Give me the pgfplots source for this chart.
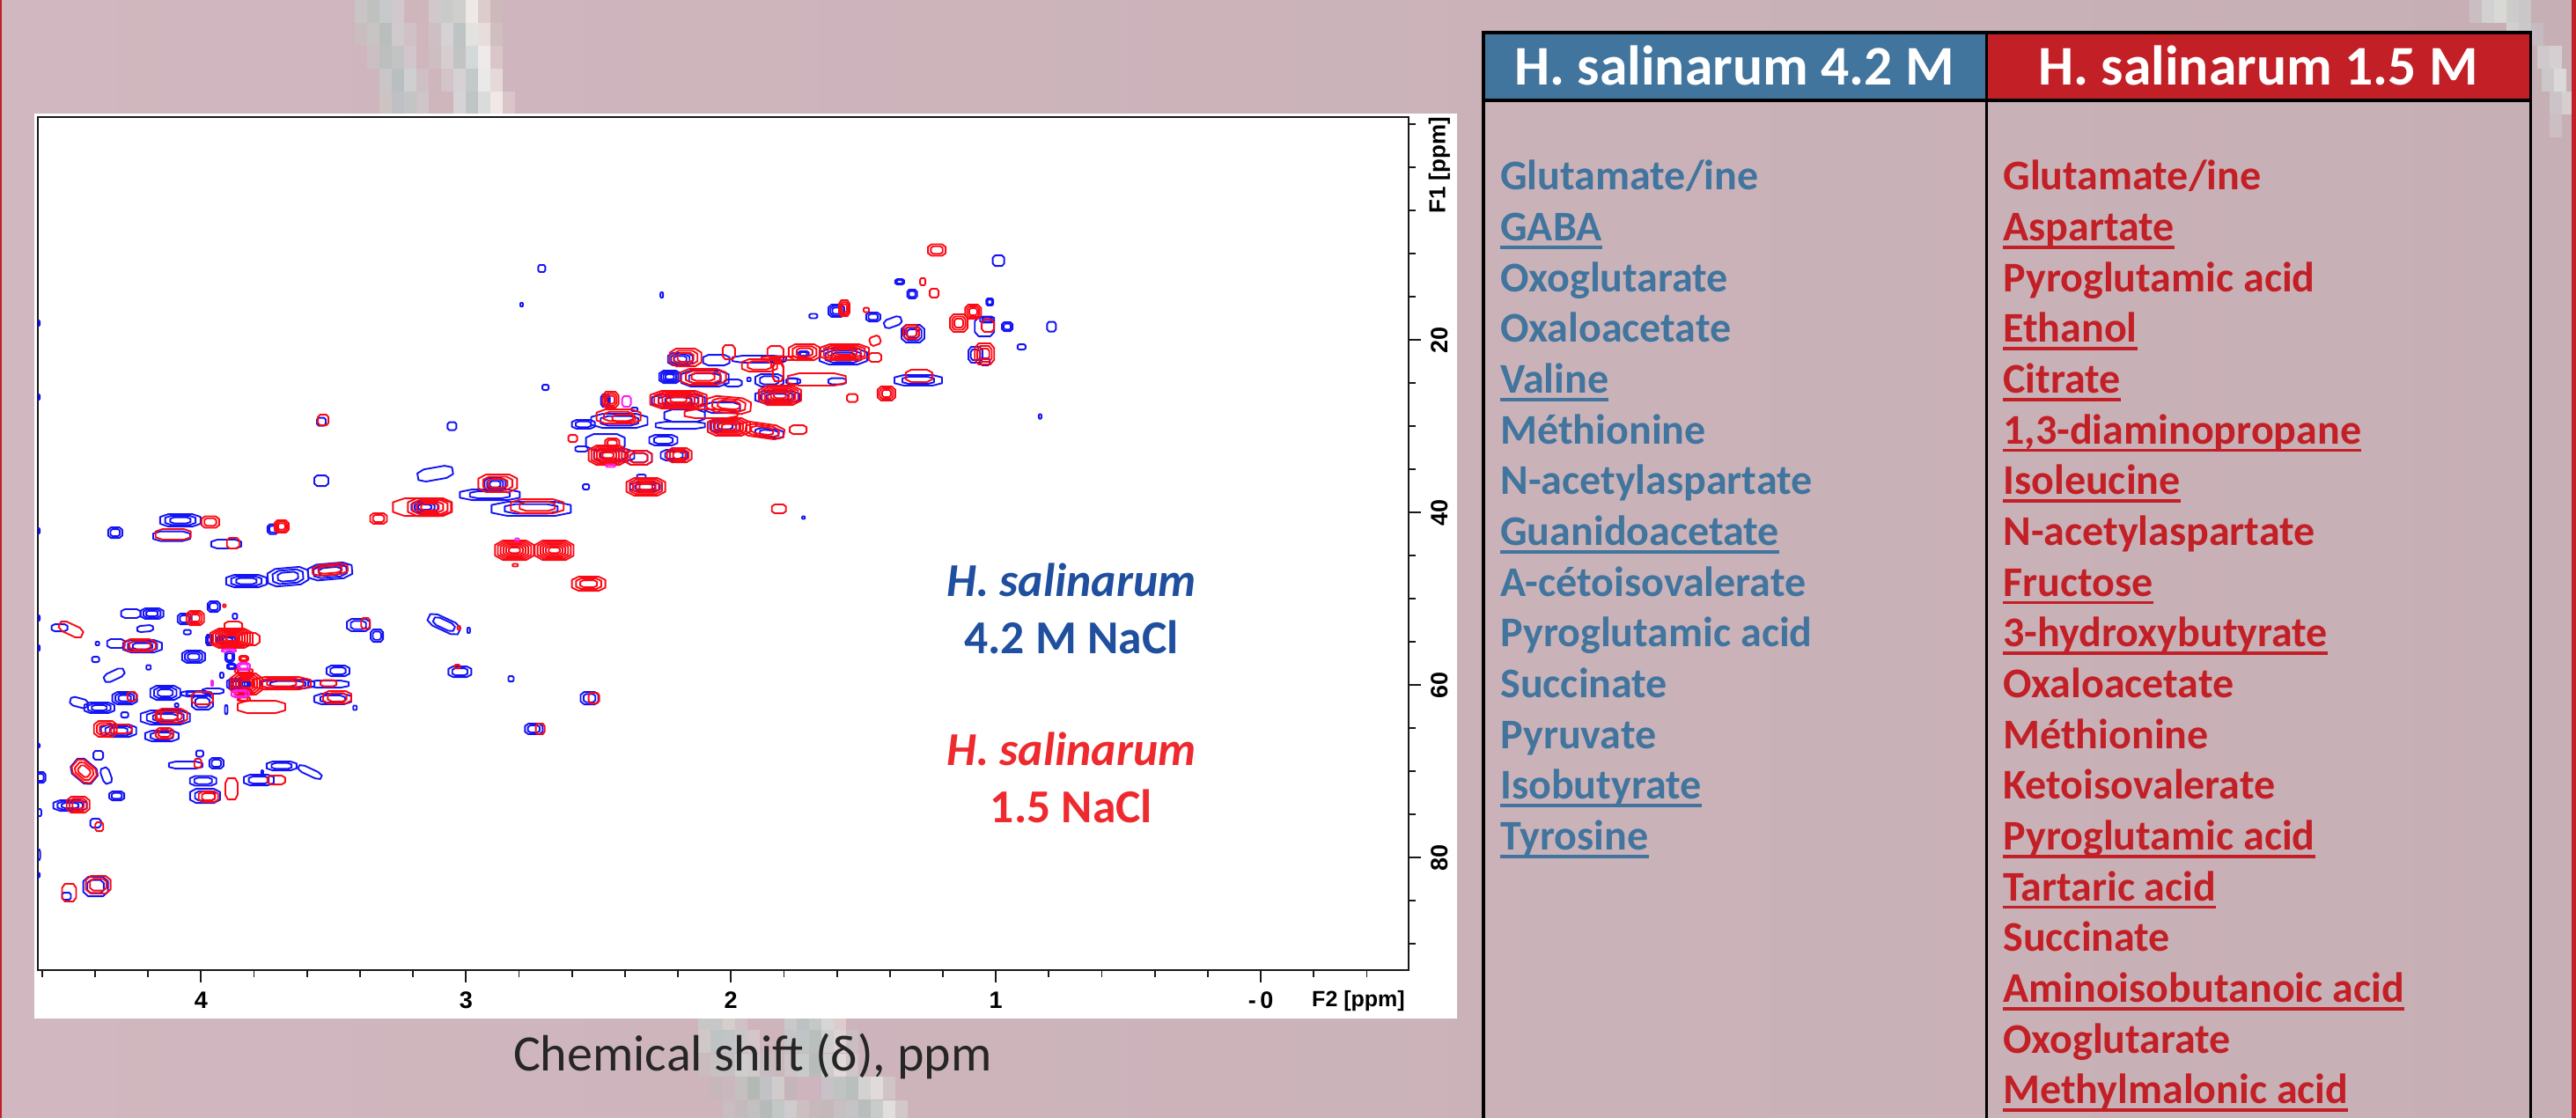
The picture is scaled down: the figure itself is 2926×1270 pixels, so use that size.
\documentclass[border=0pt]{standalone}
\usepackage{pgfplots}
\usepackage{pgfplotstable}
\usepackage{fontspec}
\pgfplotsset{compat=1.18}
\setmainfont{Carlito}
\newfontfamily\armfont{Liberation Sans}
\definecolor{cblue}{RGB}{20,20,245}
\definecolor{cred}{RGB}{250,10,20}
\definecolor{cmag}{RGB}{250,30,240}
\definecolor{tblue}{HTML}{41759E}
\definecolor{tred}{HTML}{C22026}
\definecolor{pblue}{HTML}{1F4F9E}
\definecolor{pred}{HTML}{EE2A2E}
\definecolor{bgl}{HTML}{D1B7BF}
\definecolor{bgm}{HTML}{CEB5BC}
\definecolor{bgr}{HTML}{C6AFB5}
\newcommand\blk[3]{\definecolor{tmpb}{HTML}{#3}\fill[tmpb] (#1,#2) rectangle ++(14.2,26.4);}
\newcommand\ulbox[1]{\setbox0\hbox{#1}\leavevmode\rlap{\copy0}\raisebox{-4.6bp}{\rule{\wd0}{1.9bp}}}
\newcommand\contourmark[1]{%
  \pgfsetstrokecolor{#1}\pgfsetlinewidth{0.95bp}\pgfsetroundjoin
  \pgftransformrotate{\ang}%
  \pgfmathtruncatemacro\nn{\nr}%
  \foreach \k in {1,...,\nn}{%
    \pgfmathsetmacro\ff{(\k+1)/(\nn+1)*0.50187}%
    \pgfmathsetmacro\aa{\rx*\ff}\pgfmathsetmacro\bb{\ry*\ff}%
    \pgfmathsetmacro\cc{0.6*\aa}\pgfmathsetmacro\dd{0.55*\bb}%
    \pgfpathmoveto{\pgfqpoint{\aa pt}{\dd pt}}%
    \pgfpathlineto{\pgfqpoint{\cc pt}{\bb pt}}%
    \pgfpathlineto{\pgfqpoint{-\cc pt}{\bb pt}}%
    \pgfpathlineto{\pgfqpoint{-\aa pt}{\dd pt}}%
    \pgfpathlineto{\pgfqpoint{-\aa pt}{-\dd pt}}%
    \pgfpathlineto{\pgfqpoint{-\cc pt}{-\bb pt}}%
    \pgfpathlineto{\pgfqpoint{\cc pt}{-\bb pt}}%
    \pgfpathlineto{\pgfqpoint{\aa pt}{-\dd pt}}%
    \pgfpathclose
    \pgfusepathqstroke}}
\pgfdeclareplotmark{markb}{\contourmark{cblue}}
\pgfdeclareplotmark{markr}{\contourmark{cred}}
\pgfdeclareplotmark{markm}{\contourmark{cmag}}
\pgfplotsset{peaks/.style={scatter,only marks,mark=#1,clip marker paths=true,
  visualization depends on={\thisrow{rx}\as\rx},
  visualization depends on={\thisrow{ry}\as\ry},
  visualization depends on={\thisrow{n}\as\nr},
  visualization depends on={\thisrow{a}\as\ang},
  scatter/@pre marker code/.code={\scope},
  scatter/@post marker code/.code={\endscope}}}
\pgfplotstableread{
x y rx ry n a
4.265 51.73 11 5 1 0
4.185 51.73 13 6 3 0
4.534 53.37 9 4 1 0
4.211 53.47 9 3.5 1 5
4.052 53.88 4 2.5 1 0
4.062 52.35 8 6 2 0
4.391 55.20 2 2 1 0
4.321 55.20 10 5 1 0
4.221 55.51 22 7 3 0
4.028 56.73 13 7 3 0
4.398 57.04 4 3 1 0
4.198 57.96 2.5 2.5 1 0
4.328 58.88 12 5 1 25
4.461 62.04 10 5 1 -15
4.384 62.65 17 6 3 0
4.288 61.53 14 7 3 0
4.135 60.92 17 8 3 0
4.018 61.02 17 3 2 0
3.995 62.04 12 8 2 0
4.288 63.47 4 3 1 0
4.092 62.35 2 2 1 0
4.135 63.78 28 8 3 0
4.311 65.31 20 7 3 0
4.148 65.92 19 6 2 0
4.614 52.25 1.5 3 1 0
4.614 55.72 1.5 3 1 0
4.614 67.04 1.5 2 1 0
4.607 70.72 6 6 2 0
4.611 74.80 2.5 4 1 0
4.614 79.69 2 6 1 0
4.614 82.04 1.5 2.5 1 0
4.614 18.06 1.5 3 1 0
4.614 26.63 1.5 3 1 0
4.614 42.14 1.5 3 1 0
3.829 47.96 23 7 3 0
3.672 47.45 23 10 3 5
3.513 46.84 25 9 3 5
3.952 50.92 7 6 2 0
3.872 52.04 2.5 3 1 0
3.968 54.79 4 6 3 0
3.902 54.79 12 5 3 0
3.892 56.73 5 6 2 0
3.885 57.86 5 3 2 0
3.869 59.90 10 6 3 0
3.835 59.90 6 5 3 0
3.672 59.90 30 5 2 0
3.519 59.90 23 4 1 0
3.483 58.37 13 6 2 0
3.922 58.88 2 3 1 0
3.905 62.86 1.5 5 1 0
3.955 60.71 12 3 1 0
3.503 61.63 21 6 2 0
3.419 62.65 2 2.5 1 0
3.406 53.06 13 7 2 0
3.336 54.29 7 7 2 0
3.083 52.96 19 7 2 -25
2.990 53.67 1.5 3 1 0
3.023 58.47 13 6 2 0
2.830 59.29 3 3 1 0
2.534 61.53 10 7 2 0
2.744 65.10 10 6 2 0
4.388 68.16 5.5 5 1 0
4.441 70.00 15 11 1 -40
4.358 70.51 5 9 1 20
4.058 69.29 19 4 1 0
4.005 67.96 4 3.5 1 0
3.942 69.08 8 6 2 0
3.696 69.39 17 5 2 0
3.589 70.10 14 4 1 -25
3.992 71.12 15 5.5 2 0
3.985 72.86 17 8 2 0
3.782 71.02 17 6 2 0
3.769 70.10 1 2 1 0
4.318 72.86 8.5 5 2 0
4.494 73.98 19 6 3 0
4.398 76.02 6 5 1 0
4.398 83.37 14 11 2 0
4.508 84.49 5 4 1 0
2.714 11.73 4 4 1 0
2.790 15.92 1.5 2 1 0
2.261 14.80 1.5 3 1 0
2.700 25.51 3.5 3 1 0
3.053 30.00 5 4.5 1 0
3.546 29.49 5 4.5 1 0
3.546 36.33 8 6 1 0
3.116 35.51 20 7 1 10
2.890 36.73 12 7 3 0
2.910 37.96 34 6 2 0
3.156 39.39 15 6 3 0
2.754 39.59 45 8 2 0
2.547 37.04 3.5 3 1 0
4.324 42.35 8 6 2 0
4.078 40.92 23 7 3 0
3.729 41.94 6 5.5 2 0
4.111 42.76 21 5.5 1 0
3.905 43.67 17 5 1 0
2.474 27.04 5 7 2 0
2.364 28.06 3.5 2 1 0
2.557 29.79 13 5 2 0
2.421 29.39 32 8 2 0
2.255 31.63 16 6 2 0
2.474 31.84 22 9 1 0
2.564 32.65 7 3 1 0
2.441 33.37 23 7 2 0
2.348 33.67 15 8 2 0
2.215 33.37 15 6 2 0
2.324 37.04 17 5 2 0
2.338 35.82 5 2 1 0
1.726 40.61 1.5 1.5 1 0
2.191 22.24 14 7 3 0
2.055 22.35 15 6 1 0
1.898 22.24 29 4 1 0
2.231 24.29 12 7 4 0
2.098 24.49 27 9 2 0
1.992 25.00 10 4 1 0
1.932 24.59 2 2 1 0
1.855 24.69 16 7 2 0
1.765 24.80 8 3 1 0
2.198 27.04 30 7 3 0
2.032 27.86 20 6 1 0
2.175 28.78 23 7 1 0
2.191 29.90 28 4 1 0
2.022 30.00 17 7 3 0
1.855 30.82 16 5 2 -5
1.825 26.63 25 7 3 0
1.363 13.27 5 3 2 0
1.316 14.69 5.5 5 2 0
1.023 15.61 4 4 2 0
1.602 16.63 9 7 3 0
1.689 17.24 4.5 2.5 1 0
1.463 17.35 8 5 2 0
1.389 17.96 10 5 1 20
1.313 19.29 13 10 3 0
1.043 18.47 11 11 1 0
1.033 17.65 8 3.5 2 0
1.077 21.73 8 9 2 0
1.040 22.55 5 4 1 0
1.576 21.94 27 9 3 0
1.726 21.63 6 3 2 0
1.822 22.24 9 3.5 1 0
1.599 24.80 10 3.5 1 0
1.769 24.80 6 3.5 1 0
1.293 24.69 27 6 2 0
0.990 10.82 6.5 6 1 0
0.790 18.47 5 5.5 1 0
0.957 18.47 6 5 2 0
0.903 20.82 4.5 3 1 0
0.833 28.88 1.5 2.5 1 0
}\bluepeaks
\pgfplotstableread{
x y rx ry n a
4.491 53.57 14 6 1 -25
4.022 52.25 10 8 3 0
4.231 55.41 18 7 2 0
4.261 61.33 5 5 1 0
3.995 61.53 12 7 1 0
4.112 63.57 18 8 2 0
4.128 63.57 12 5 1 0
4.361 65.10 13 9 3 0
4.295 65.10 10 5 1 0
4.138 65.61 10 6 2 0
3.513 46.63 20 6 2 5
3.912 50.82 1.5 1.5 1 0
3.885 54.59 24 11 7 0
3.819 54.69 12 7 1 0
3.878 53.16 10 5 1 0
3.839 56.94 5 3 2 0
3.839 58.37 10 2.5 2 0
3.829 59.90 18 12 5 0
3.696 59.80 33 7 3 0
3.519 59.80 9 3.5 1 0
3.839 61.63 7 2.5 2 0
3.772 62.55 27 7 1 0
3.486 61.43 16 7 2 0
3.379 52.86 5 6 1 0
3.027 53.37 1.5 2 1 0
3.033 57.86 3 2 1 0
2.517 61.53 6 6 1 0
2.720 65.10 5 6 1 0
4.441 70.00 14 10 3 -40
4.012 69.08 4 5 1 0
3.885 72.04 7 12 1 0
3.972 72.96 11 6 2 0
3.716 71.02 10 5 1 0
4.464 73.88 13 9 3 0
4.384 76.43 4.5 5 1 0
4.388 83.16 14 10 2 0
4.498 84.08 8 10 1 0
3.539 29.29 6 6 1 0
2.880 36.63 22 10 3 0
3.166 39.39 33 10 1 0
3.136 39.39 25 10 4 0
3.330 40.71 9.5 6 2 0
2.731 39.29 30 8 2 0
2.817 44.39 22 11 6 0
2.667 44.39 22 11 6 0
2.814 46.12 3 1.5 1 0
2.537 48.27 19 8 3 0
3.965 41.12 10 6.5 2 0
3.696 41.63 8 7 3 0
4.105 42.55 20 6 1 0
3.879 43.57 7 6 1 0
2.454 26.94 9 9 3 0
2.424 28.88 25 8 2 0
2.404 29.08 13 4 1 0
2.597 31.43 5 4 1 0
2.448 31.94 8 5 2 0
2.464 33.37 22 11 6 0
2.348 33.67 15 8 2 0
2.195 33.37 14 8 3 0
2.321 37.04 22 10 5 0
1.819 39.59 8 5 1 0
2.171 22.04 18 10 3 0
2.008 21.43 7 8 1 0
1.892 22.96 20 7 2 0
1.822 23.67 6 11 1 0
2.105 24.29 26 9 3 0
2.198 26.94 32 10 6 0
2.008 27.55 25 9 3 -5
2.075 28.57 30 5 1 0
2.008 30.10 24 10 5 0
1.882 30.51 25 8 3 -8
1.746 30.41 9.5 5 1 0
1.815 26.43 24 11 6 0
1.276 13.26 3 4 1 0
1.233 14.59 5 5 1 0
1.572 16.33 6 9 3 0
1.489 16.53 3 2.5 1 0
1.319 19.08 9 8 2 0
1.140 18.06 10 10 3 0
1.086 16.74 9 8 3 0
1.030 18.36 7 7 1 0
1.456 20.10 6 5 1 20
1.043 21.63 11 12 3 0
1.722 21.43 18 9 3 0
1.572 21.43 28 9 5 0
1.456 22.04 7 5 1 0
1.832 21.43 9 7 1 0
1.809 22.14 23 2 1 0
1.822 23.78 6 10 1 0
1.676 24.59 33 7 1 0
1.290 24.18 15 7 1 0
1.542 26.74 6 4.5 1 0
1.413 26.22 10 8 3 0
1.223 9.59 10 6.5 2 0
}\redpeaks
\pgfplotstableread{
x y rx ry n a
3.895 56.02 8 1.5 1 0
3.839 57.86 7 4 2 0
3.852 61.02 10 4 2 0
3.958 59.80 1 3 1 0
2.454 34.59 5 1.5 1 0
2.394 27.14 5 6 1 0
2.807 43.16 2 1.5 1 0
}\magpeaks
\begin{document}
\begin{tikzpicture}
\begin{scope}[x=0.5bp,y=-0.5bp]
\useasboundingbox (0,0) rectangle (2926,1270);
\shade[left color=bgl,middle color=bgm,right color=bgr] (0,0) rectangle (2926,1270);
\foreach \x/\y/\c in {403/0/C9C5C6,417/0/BFC1BE,431/0/C6CACA,445/0/D0C8CC,487/0/D0C8CA,501/0/C9CBCB,515/0/CFD0CE,529/0/EEE9E6,543/0/DCCDCC,557/0/CDB9BC,
 403/26/C9BDBF,417/26/C6C5C3,431/26/B9BDBB,445/26/D0C9CD,459/26/CFC1C5,487/26/CDBFC3,501/26/D4D2D4,515/26/BEC4C3,529/26/E2E3DF,543/26/E8DCDC,557/26/CFBFBF,
 417/52/CBBFC3,431/52/BDBFBE,445/52/C2C3C2,459/52/D0C6CB,487/52/CDBEC1,501/52/D6CDD0,515/52/C2C3C3,529/52/D3D8D8,543/52/EEEAEA,557/52/DAC6C8,
 431/78/C8C6C8,445/78/B9BFC0,459/78/CFCFD0,473/78/CDBFC3,501/78/D2C4C8,515/78/D5D1D4,529/78/C3C9CA,543/78/E9E9E7,557/78/E5D8D8,
 431/104/CEC3C3,445/104/BEC0C3,459/104/C3C5C5,473/104/CEC5C8,515/104/D6D3D6,529/104/BFC5C4,543/104/D9DCDA,557/104/F0E8E5,571/104/DAC6C8,
 793/1144/C7C8C5,807/1144/C7C8C5,821/1144/D4CFCB,835/1144/CFC1C5,891/1144/CBC8CB,905/1144/BEC1C3,919/1144/C4C8C6,933/1144/D8D5D5,947/1144/DCCCCD,
 793/1170/D0C8C8,807/1170/BEC3C3,821/1170/C0C4C5,835/1170/C8C6C8,849/1170/D4C5C9,891/1170/C5C5C8,905/1170/BFC4C4,919/1170/B8BFBC,933/1170/CFCECF,947/1170/DDD2D4,961/1170/C9BEC2,
 793/1197/C9BBBE,807/1197/C8C1C2,821/1197/C5C0C1,835/1197/CFCCCD,849/1197/D0C9CC,863/1197/C5BDBF,877/1197/CAB9BC,891/1197/CEC4C8,905/1197/C8CBCC,919/1197/B7BCBB,933/1197/CCCDCB,947/1197/E0D8D9,961/1197/D0C5C9,
 807/1223/C5B7BC,821/1223/CAB8BE,835/1223/C3C0BF,849/1223/B3BAB6,863/1223/C0C2C6,877/1223/D0CCCC,891/1223/C3B5BA,933/1223/C8C2C8,947/1223/BFC3C2,961/1223/B9BFBC,975/1223/D2D2D0,989/1223/E0DBDA,1003/1223/D0C4C7,
 821/1250/C9BDC2,835/1250/C4B9BC,849/1250/C2C0C2,863/1250/B4BBB8,877/1250/C2C8C5,891/1250/CFCCCF,905/1250/CBBFC2,919/1250/C6B8BC,933/1250/C4B8BB,947/1250/C8BFC2,961/1250/C4C4C7,975/1250/B8BEBB,989/1250/C8CCCA,1003/1250/E2DEDB,1017/1250/D2C8C9,
 2805/0/CBBEC3,2819/0/D3D0D1,2833/0/D8D8D5,2847/0/CCCDCB,2861/0/C9C7C8,2847/26/D2D0CF,2861/26/C9C9CA,2875/26/C5BBC0,2882/52/D0C9CB,2896/52/D5CFD1,2887/78/CCC7C9,2901/78/DBD8D8,2896/104/CBC3C7,2910/104/D6CFD2,2896/130/CCBEC3}{\blk{\x}{\y}{\c}}
\fill[tred] (0,0) rectangle (2,1270);
\fill[tred] (2921,0) rectangle (2926,1270);
\fill[white] (39,129) rectangle (1655,1157);
\end{scope}
\begin{axis}[at={(21.5bp,-551bp)},anchor=south west,scale only axis,
  width=778.5bp,height=484.5bp,
  x dir=reverse,y dir=reverse,
  xmin=-0.558,xmax=4.616,ymin=-5.82,ymax=93.06,
  axis line style={black!90,line width=1.1bp},
  tick align=outside,xtick pos=bottom,ytick pos=right,
  major tick length=7bp,minor tick length=4bp,
  tick style={black!90,line width=0.9bp},
  xtick={4,3,2,1,0},xticklabels={4,3,2,1,{-\,0}},
  minor xtick={4.6,4.4,4.2,3.8,3.6,3.4,3.2,2.8,2.6,2.4,2.2,1.8,1.6,1.4,1.2,0.8,0.6,0.4,0.2,-0.2,-0.4},
  ytick={20,40,60,80},yticklabels={20,40,60,80},
  minor ytick={-5,0,5,10,15,25,30,35,45,50,55,65,70,75,85,90},
  xticklabel style={font=\armfont\bfseries\fontsize{13.5bp}{13.5bp}\selectfont,inner sep=0pt,yshift=-5bp},
  yticklabel style={font=\armfont\bfseries\fontsize{13.5bp}{13.5bp}\selectfont,rotate=90,anchor=north,inner sep=0pt,yshift=-5.5bp},
  ]
\addplot[peaks=markb] table[x=x,y=y] {\bluepeaks};
\addplot[peaks=markr] table[x=x,y=y] {\redpeaks};
\addplot[peaks=markm] table[x=x,y=y] {\magpeaks};
\end{axis}
\begin{scope}[x=0.5bp,y=-0.5bp]
\node[font=\armfont\bfseries\fontsize{12.5bp}{12.5bp}\selectfont,inner sep=0pt,anchor=center] at (1543,1137) {F2 [ppm]};
\node[font=\armfont\bfseries\fontsize{13bp}{13bp}\selectfont,inner sep=0pt,rotate=90,anchor=center] at (1635,188) {F1 [ppm]};
\node[font=\fontsize{29bp}{30bp}\selectfont,text=black!85,inner sep=0pt,anchor=base] at (855,1216) {Chemical shift (δ), ppm};
\node[font=\bfseries\itshape\fontsize{26.8bp}{30bp}\selectfont,text=pblue,inner sep=0pt,anchor=base] at (1217,677) {H. salinarum};
\node[font=\bfseries\fontsize{26.8bp}{30bp}\selectfont,text=pblue,inner sep=0pt,anchor=base] at (1217,742) {4.2 M NaCl};
\node[font=\bfseries\itshape\fontsize{26.8bp}{30bp}\selectfont,text=pred,inner sep=0pt,anchor=base] at (1217,869) {H. salinarum};
\node[font=\bfseries\fontsize{26.8bp}{30bp}\selectfont,text=pred,inner sep=0pt,anchor=base] at (1217,934) {1.5 NaCl};
% table
\fill[tblue] (1685,37) rectangle (2256,114);
\fill[tred] (2256,37) rectangle (2875,114);
\fill[black] (1683,35) rectangle (2876,39);
\fill[black] (1683,112) rectangle (2876,116);
\fill[black] (1683,35) rectangle (1687,1270);
\fill[black] (2873,35) rectangle (2876,1270);
\fill[black] (2254.5,35) rectangle (2257.5,1270);
\node[font=\bfseries\fontsize{31.8bp}{32bp}\selectfont,text=white,inner sep=0pt,anchor=base] at (1970,97) {H. salinarum 4.2 M};
\node[font=\bfseries\fontsize{31.8bp}{32bp}\selectfont,text=white,inner sep=0pt,anchor=base] at (2565,97) {H. salinarum 1.5 M};
\def\rowfont{\bfseries\fontsize{24bp}{26bp}\selectfont}
\newcommand\row[4]{\node[font=\rowfont,text=#2,inner sep=0pt,anchor=base west] at (#1,{216+57.65*#3}) {#4};}
\row{1704}{tblue}{0}{Glutamate/ine}
\row{1704}{tblue}{1}{\ulbox{GABA}}
\row{1704}{tblue}{2}{Oxoglutarate}
\row{1704}{tblue}{3}{Oxaloacetate}
\row{1704}{tblue}{4}{\ulbox{Valine}}
\row{1704}{tblue}{5}{Méthionine}
\row{1704}{tblue}{6}{N-acetylaspartate}
\row{1704}{tblue}{7}{\ulbox{Guanidoacetate}}
\row{1704}{tblue}{8}{A-cétoisovalerate}
\row{1704}{tblue}{9}{Pyroglutamic acid}
\row{1704}{tblue}{10}{Succinate}
\row{1704}{tblue}{11}{Pyruvate}
\row{1704}{tblue}{12}{\ulbox{Isobutyrate}}
\row{1704}{tblue}{13}{\ulbox{Tyrosine}}
\row{2275}{tred}{0}{Glutamate/ine}
\row{2275}{tred}{1}{\ulbox{Aspartate}}
\row{2275}{tred}{2}{Pyroglutamic acid}
\row{2275}{tred}{3}{\ulbox{Ethanol}}
\row{2275}{tred}{4}{\ulbox{Citrate}}
\row{2275}{tred}{5}{\ulbox{1,3-diaminopropane}}
\row{2275}{tred}{6}{\ulbox{Isoleucine}}
\row{2275}{tred}{7}{N-acetylaspartate}
\row{2275}{tred}{8}{\ulbox{Fructose}}
\row{2275}{tred}{9}{\ulbox{3-hydroxybutyrate}}
\row{2275}{tred}{10}{Oxaloacetate}
\row{2275}{tred}{11}{Méthionine}
\row{2275}{tred}{12}{Ketoisovalerate}
\row{2275}{tred}{13}{\ulbox{Pyroglutamic acid}}
\row{2275}{tred}{14}{\ulbox{Tartaric acid}}
\row{2275}{tred}{15}{Succinate}
\row{2275}{tred}{16}{\ulbox{Aminoisobutanoic acid}}
\row{2275}{tred}{17}{Oxoglutarate}
\row{2275}{tred}{18}{\ulbox{Methylmalonic acid}}
\end{scope}
\end{tikzpicture}
\end{document}
